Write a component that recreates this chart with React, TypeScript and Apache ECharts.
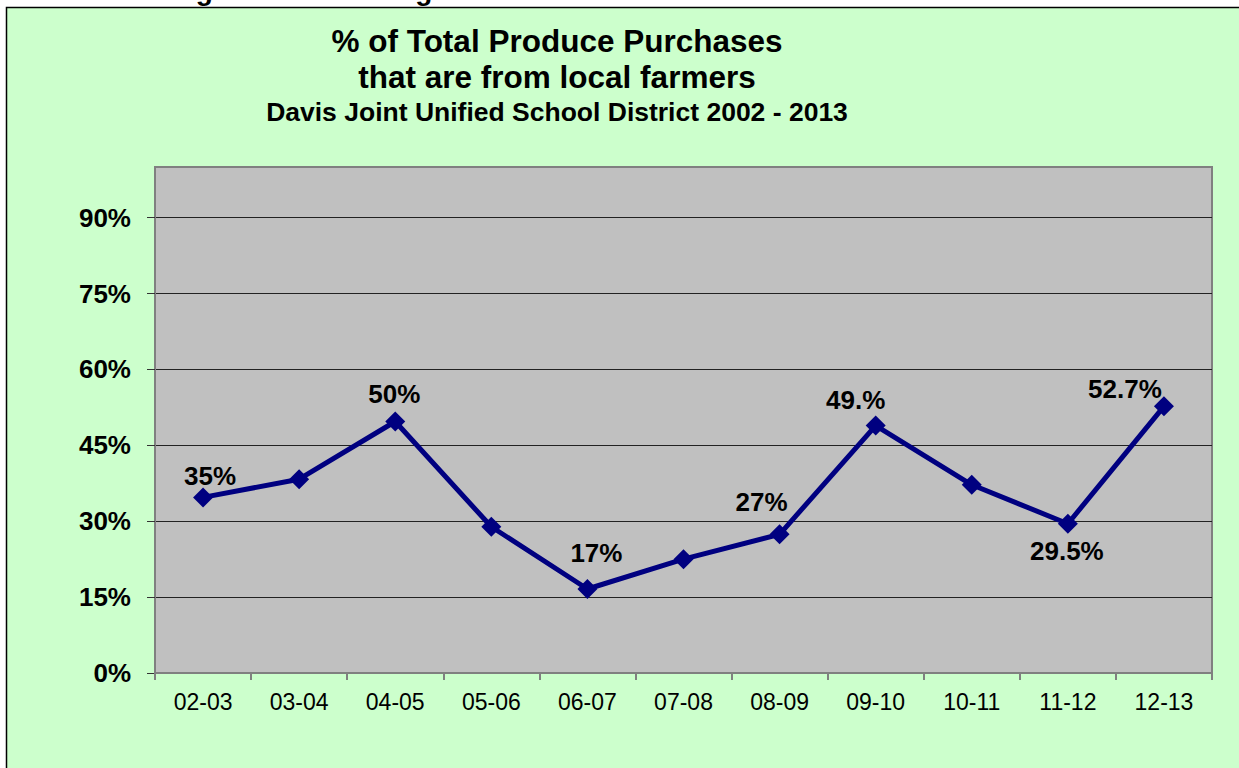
import React, { useEffect, useRef } from "react";
import * as echarts from "echarts";

const categories = ["02-03", "03-04", "04-05", "05-06", "06-07", "07-08", "08-09", "09-10", "10-11", "11-12", "12-13"];
const values = [34.7, 38.3, 49.7, 28.9, 16.6, 22.5, 27.4, 48.9, 37.2, 29.5, 52.7];
const pointLabels = ["35%", "", "50%", "", "17%", "", "27%", "49.%", "", "29.5%", "52.7%"];
const yTicks = [0, 15, 30, 45, 60, 75, 90];
const titleLines = ["% of Total Produce Purchases", "that are from local farmers"];
const subtitle = "Davis Joint Unified School District 2002 - 2013";
const topCaption = "Figure 1: Percentage of Fresh Produce Purchased from Local Growers";

// label offsets (layout only)
const labelOffsets: number[][] = [[7, -21], [0, 0], [-1, -28], [0, 0], [9, -36], [0, 0], [-18, -32], [-20, -26], [0, 0], [-1, 27], [-39, -17]];

const FONT = "'Liberation Sans', Arial, Helvetica, sans-serif";

export default function App() {
  const ref = useRef<HTMLDivElement>(null);
  useEffect(() => {
    document.body.style.margin = "0";
    const chart = echarts.init(ref.current!, null, { renderer: "svg" });
    const data = values.map((v, i) => ({
      value: v,
      label: pointLabels[i]
        ? {
            show: true,
            formatter: pointLabels[i],
            position: "inside",
            align: "center",
            verticalAlign: "middle",
            offset: labelOffsets[i],
            fontFamily: FONT,
            fontSize: 26,
            fontWeight: "bold",
            color: "#000",
          }
        : { show: false },
    }));
    chart.setOption({
      animation: false,
      backgroundColor: "#ffffff",
      graphic: [
        {
          type: "rect",
          z: -5,
          shape: { x: 6.5, y: 7.5, width: 1400, height: 900 },
          style: { fill: "#CCFFCC", stroke: "#000", lineWidth: 1.5 },
        },
        {
          type: "text",
          z: -6,
          x: 640,
          y: 4,
          style: {
            text: topCaption,
            fontFamily: FONT,
            fontSize: 28,
            fontWeight: "bold",
            fill: "#000",
            align: "center",
            verticalAlign: "bottom",
          },
        },
        ...titleLines.map((t, i) => ({
          type: "text",
          x: 557,
          y: 41 + i * 35.5,
          style: {
            text: t,
            fontFamily: FONT,
            fontSize: 31.5,
            fontWeight: "bold",
            fill: "#000",
            align: "center",
            verticalAlign: "middle",
          },
        })),
        {
          type: "text",
          x: 557,
          y: 111.5,
          style: {
            text: subtitle,
            fontFamily: FONT,
            fontSize: 26.5,
            fontWeight: "bold",
            fill: "#000",
            align: "center",
            verticalAlign: "middle",
          },
        },
      ],
      grid: {
        left: 155,
        top: 167,
        right: 27,
        bottom: 95,
        show: true,
        backgroundColor: "#C0C0C0",
        borderColor: "#808080",
        borderWidth: 2,
      },
      xAxis: {
        type: "category",
        data: categories,
        boundaryGap: true,
        axisLine: { show: true, lineStyle: { color: "#808080", width: 2 } },
        axisTick: { show: true, alignWithLabel: false, length: 7, lineStyle: { color: "#808080", width: 2 } },
        axisLabel: { color: "#000", fontFamily: FONT, fontSize: 23, margin: 17 },
        splitLine: { show: false },
      },
      yAxis: {
        type: "value",
        min: 0,
        max: 100,
        interval: 15,
        axisLine: { show: true, lineStyle: { color: "#808080", width: 2 } },
        axisTick: { show: true, length: 8, customValues: yTicks, lineStyle: { color: "#333", width: 1 } },
        axisLabel: {
          customValues: yTicks,
          color: "#000",
          fontFamily: FONT,
          fontSize: 26,
          fontWeight: "bold",
          margin: 24,
          formatter: (v: number) => (v > 90 ? "" : v + "%"),
        },
        splitLine: { show: true, lineStyle: { color: "#222", width: 1.2 } },
      },
      series: [
        {
          type: "line",
          data,
          symbol: "diamond",
          symbolSize: 20,
          lineStyle: { color: "#000080", width: 5 },
          itemStyle: { color: "#000080" },
          z: 5,
        },
      ],
    });
    return () => chart.dispose();
  }, []);
  return <div ref={ref} style={{ width: 1239, height: 768 }} />;
}
